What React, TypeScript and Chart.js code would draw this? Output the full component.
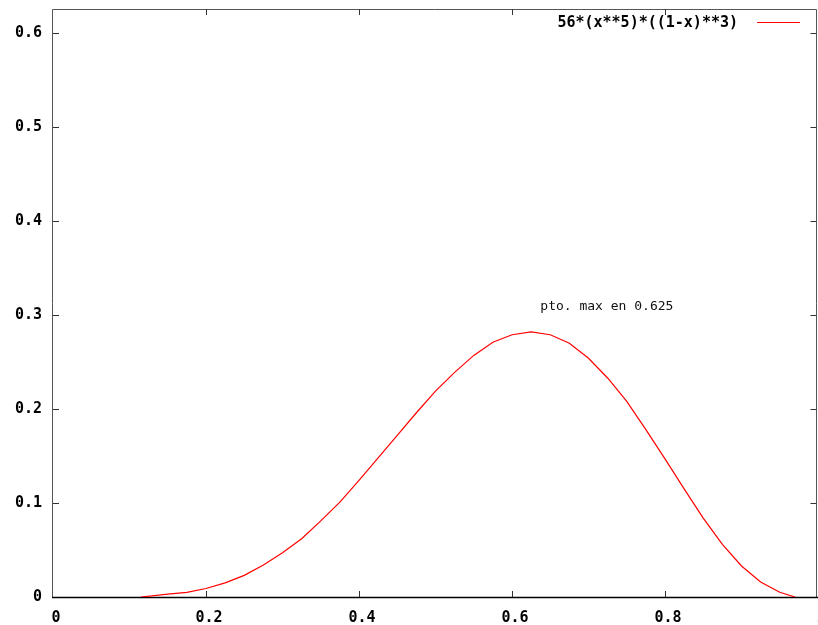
import React, { useEffect, useRef } from "react";
import { Chart, registerables } from "chart.js";

Chart.register(...registerables);

// ---- data ----
const xValues = [
  0.115, 0.15, 0.175, 0.2, 0.225, 0.25, 0.275, 0.3, 0.325, 0.35, 0.375, 0.4,
  0.425, 0.45, 0.475, 0.5, 0.525, 0.55, 0.575, 0.6, 0.625, 0.65, 0.675, 0.7,
  0.725, 0.75, 0.775, 0.8, 0.825, 0.85, 0.875, 0.9, 0.925, 0.95, 0.97,
];
const yValues = [
  0.0, 0.003, 0.005, 0.009, 0.015, 0.023, 0.034, 0.047, 0.062, 0.081, 0.101,
  0.124, 0.148, 0.172, 0.196, 0.219, 0.239, 0.257, 0.271, 0.279, 0.282, 0.279,
  0.27, 0.254, 0.233, 0.208, 0.178, 0.147, 0.115, 0.084, 0.056, 0.033, 0.016,
  0.005, 0.0,
];
const xTicks = [0, 0.2, 0.4, 0.6, 0.8, 1];
const xTickLabels = ["0", "0.2", "0.4", "0.6", "0.8", "1"];
const yTicks = [0, 0.1, 0.2, 0.3, 0.4, 0.5, 0.6];
const yTickLabels = ["0", "0.1", "0.2", "0.3", "0.4", "0.5", "0.6"];
const seriesLabel = "56*(x**5)*((1-x)**3)";
const annotationText = "pto. max en 0.625";
const annotationX = 0.637;
const annotationY = 0.3085;
const xMin = 0;
const xMax = 1;
const yMin = 0;
const yMax = 0.6255;

const MONO = "'DejaVu Sans Mono', 'Liberation Mono', monospace";

const framePlugin = {
  id: "gnuFrame",
  beforeDatasetsDraw(chart: any) {
    const { ctx, chartArea, scales } = chart;
    const { left, right, top, bottom } = chartArea;
    const xs = scales.x;
    const ys = scales.y;
    ctx.save();
    ctx.lineWidth = 1;
    ctx.strokeStyle = "#555";
    ctx.beginPath();
    // left, top, right borders
    ctx.moveTo(left - 0.5, bottom);
    ctx.lineTo(left - 0.5, top + 0.5);
    ctx.lineTo(right - 1.5, top + 0.5);
    ctx.lineTo(right - 1.5, bottom);
    ctx.stroke();
    // tick marks (inward, mirrored)
    ctx.strokeStyle = "#333";
    ctx.beginPath();
    const tl = 6;
    xTicks.forEach((v) => {
      const px = Math.round(xs.getPixelForValue(v)) + 0.5;
      if (px <= left + 1 || px >= right - 2) return;
      ctx.moveTo(px, bottom);
      ctx.lineTo(px, bottom - tl);
      ctx.moveTo(px, top);
      ctx.lineTo(px, top + tl);
    });
    yTicks.forEach((v) => {
      const py = Math.round(ys.getPixelForValue(v)) + 0.5;
      if (py >= bottom - 1 || py <= top + 1) return;
      ctx.moveTo(left, py);
      ctx.lineTo(left + tl, py);
      ctx.moveTo(right - 1.5, py);
      ctx.lineTo(right - 1.5 - tl, py);
    });
    ctx.stroke();
    // bottom axis line
    ctx.strokeStyle = "#000";
    ctx.lineWidth = 1.5;
    ctx.beginPath();
    ctx.moveTo(left - 1, bottom + 0.5);
    ctx.lineTo(right, bottom + 0.5);
    ctx.stroke();
    ctx.restore();
  },
  afterDraw(chart: any) {
    const { ctx, scales } = chart;
    const xs = scales.x;
    const ys = scales.y;
    ctx.save();
    // legend
    ctx.font = `bold 15px ${MONO}`;
    ctx.fillStyle = "#000";
    ctx.textAlign = "right";
    ctx.textBaseline = "middle";
    ctx.fillText(seriesLabel, 738, 23);
    ctx.strokeStyle = "#ff0000";
    ctx.lineWidth = 1.2;
    ctx.beginPath();
    ctx.moveTo(757, 22.5);
    ctx.lineTo(800, 22.5);
    ctx.stroke();
    // annotation
    ctx.font = `13px ${MONO}`;
    ctx.fillStyle = "#111";
    ctx.textAlign = "left";
    ctx.textBaseline = "middle";
    ctx.fillText(
      annotationText,
      xs.getPixelForValue(annotationX),
      ys.getPixelForValue(annotationY)
    );
    ctx.restore();
  },
};

export default function App() {
  const ref = useRef<HTMLCanvasElement | null>(null);

  useEffect(() => {
    if (!ref.current) return;
    const chart = new Chart(ref.current, {
      type: "line",
      data: {
        datasets: [
          {
            label: seriesLabel,
            data: xValues.map((x, i) => ({ x, y: yValues[i] })),
            borderColor: "#ff0000",
            borderWidth: 1.2,
            pointRadius: 0,
            tension: 0,
            fill: false,
          },
        ],
      },
      options: {
        responsive: false,
        animation: false,
        devicePixelRatio: 1,
        layout: {
          autoPadding: false,
          padding: { top: 9, right: 0, left: 0, bottom: 0 },
        },
        plugins: {
          legend: { display: false },
          tooltip: { enabled: false },
        },
        scales: {
          x: {
            type: "linear",
            min: xMin,
            max: xMax,
            grid: { display: false, drawTicks: false },
            border: { display: false },
            afterBuildTicks: (s: any) => {
              s.ticks = xTicks.map((v) => ({ value: v }));
            },
            afterFit: (s: any) => {
              s.height = 28;
              s.paddingLeft = 0;
              s.paddingRight = 0;
              s.paddingTop = 0;
              s.paddingBottom = 0;
            },
            ticks: {
              autoSkip: false,
              maxRotation: 0,
              padding: 12,
              labelOffset: 3,
              color: "#000",
              font: { family: MONO, size: 15, weight: "bold" },
              callback: (v: any) => {
                const i = xTicks.indexOf(Number(v));
                return i >= 0 ? xTickLabels[i] : "";
              },
            },
          },
          y: {
            type: "linear",
            min: yMin,
            max: yMax,
            grid: { display: false, drawTicks: false },
            border: { display: false },
            afterBuildTicks: (s: any) => {
              s.ticks = yTicks.map((v) => ({ value: v }));
            },
            afterFit: (s: any) => {
              s.width = 53;
              s.paddingLeft = 0;
              s.paddingRight = 0;
              s.paddingTop = 0;
              s.paddingBottom = 0;
            },
            ticks: {
              autoSkip: false,
              padding: 11,
              color: "#000",
              font: { family: MONO, size: 15, weight: "bold" },
              callback: (v: any) => {
                const i = yTicks.findIndex((t) => Math.abs(t - Number(v)) < 1e-9);
                return i >= 0 ? yTickLabels[i] : "";
              },
            },
          },
        },
      },
      plugins: [framePlugin],
    } as any);
    return () => chart.destroy();
  }, []);

  return (
    <div
      style={{
        position: "fixed",
        left: 0,
        top: 0,
        width: 818,
        height: 625,
        overflow: "hidden",
        background: "#fff",
      }}
    >
      <canvas ref={ref} width={818} height={625} style={{ display: "block" }} />
    </div>
  );
}
